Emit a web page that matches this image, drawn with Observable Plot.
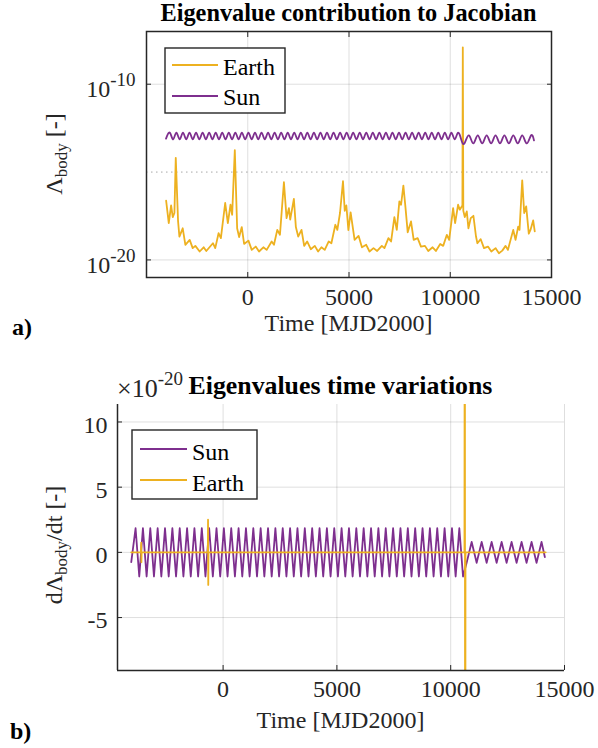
<!DOCTYPE html>
<html><head><meta charset="utf-8">
<script src="https://cdn.jsdelivr.net/npm/d3@7"></script>
<script src="https://cdn.jsdelivr.net/npm/@observablehq/plot@0.6"></script>
<style>
html,body{margin:0;padding:0;background:#fff;}
#wrap{position:relative;width:598px;height:748px;overflow:hidden;font-family:"Liberation Serif","Times New Roman",serif;}
#wrap svg{position:absolute;left:0;}
#wrap svg text{font-family:"Liberation Serif","Times New Roman",serif;}
</style></head><body><div id="wrap"></div>
<script>
// ---------- data ----------
const xTicks = [0, 5000, 10000, 15000];
const topYTicks = [1e-20, 1e-10];
const topMinorGrid = [1e-15];
const botYTicks = [-5, 0, 5, 10];
const seriesNames = ["Earth", "Sun"];

// Earth, panel a) : time [MJD2000] and log10 of Lambda
const earthTopT = [-4031,-3900,-3785,-3703,-3621,-3555,-3441,-3375,-3211,-3080,
 -2867,-2719,-2588,-2375,-2178,-2047,-1720,-1605,-1441,-1327,
 -1114,-983,-852,-770,-639,-524,-426,-295,-180,33,
 197,393,557,770,934,1180,1295,1458,1590,1786,
 1917,2032,2097,2278,2376,2491,2655,2786,2933,3114,
 3311,3475,3638,3802,3999,4130,4326,4424,4556,4703,
 4790,4870,4970,5080,5276,5472,5639,5850,6013,6209,
 6391,6622,6750,6947,7079,7241,7359,7487,7571,7685,
 7784,7899,8062,8194,8390,8554,8751,8914,9129,9291,
 9504,9652,9832,9946,10142,10240,10388,10471,10600,10620,
 10645,10718,10816,10898,11011,11144,11272,11341,11504,11666,
 11862,12029,12241,12403,12570,12732,12846,13111,13224,13357,
 13421,13554,13652,13750,13878,13962,14094,14173];
const earthTopExp = [-16.63,-17.90,-16.90,-17.56,-17.33,-14.19,-17.80,-18.67,-18.20,-19.14,
 -18.86,-19.33,-19.20,-19.52,-19.28,-19.49,-19.05,-19.33,-18.48,-18.76,
 -16.76,-17.90,-16.86,-17.43,-13.75,-18.20,-18.70,-18.13,-19.09,-18.90,
 -19.43,-19.24,-19.52,-19.28,-19.43,-18.95,-19.14,-18.29,-18.57,-15.58,
 -17.62,-17.05,-17.71,-16.53,-18.13,-18.67,-18.29,-19.20,-18.95,-19.39,
 -19.20,-19.52,-19.28,-19.43,-18.95,-19.05,-18.00,-18.29,-17.33,-15.52,
 -17.20,-16.90,-18.30,-17.30,-18.86,-18.63,-19.28,-19.14,-19.52,-19.33,
 -19.49,-19.20,-19.33,-18.76,-18.95,-17.56,-18.29,-16.67,-16.86,-15.77,
 -16.95,-18.43,-17.81,-18.86,-18.76,-19.24,-19.20,-19.49,-19.28,-19.49,
 -19.09,-19.20,-18.57,-18.86,-17.05,-17.90,-16.86,-17.14,-16.90,-7.90,
 -17.20,-17.56,-17.24,-18.20,-17.62,-17.49,-18.67,-19.05,-18.82,-19.33,
 -19.24,-19.52,-19.33,-19.62,-19.47,-19.20,-19.43,-18.29,-18.86,-18.10,
 -18.29,-15.47,-17.33,-16.95,-18.51,-18.29,-17.75,-18.38];

// Sun, both panels: times of the local extrema of the oscillation
const sunT = [-4036,
 -3846,-3684,-3523,-3361,-3199,-3038,-2876,-2714,-2553,-2391,
 -2229,-2068,-1906,-1744,-1583,-1421,-1260,-1098,-936,-775,
 -613,-451,-290,-128,34,195,357,519,680,842,
 1004,1165,1327,1489,1650,1812,1974,2135,2297,2459,
 2620,2782,2943,3105,3267,3428,3590,3752,3913,4075,
 4237,4398,4560,4722,4883,5045,5206,5368,5530,5691,
 5853,6015,6176,6338,6500,6661,6823,6985,7146,7308,
 7469,7631,7793,7954,8116,8278,8439,8601,8763,8924,
 9086,9248,9409,9571,9732,9894,10056,10217,10379,10541,
 10700,10921,11140,11360,11579,11798,12018,12237,12456,12675,
 12895,13114,13333,13553,13772,13991,14136];
// panel a) log10 of Lambda_Sun
const sunTopExp = [-13.10,
 -12.76,-13.14,-12.76,-13.14,-12.76,-13.14,-12.76,-13.14,-12.76,-13.14,
 -12.76,-13.14,-12.76,-13.14,-12.76,-13.14,-12.76,-13.14,-12.76,-13.14,
 -12.76,-13.14,-12.76,-13.14,-12.76,-13.14,-12.76,-13.14,-12.76,-13.14,
 -12.76,-13.14,-12.76,-13.14,-12.76,-13.14,-12.76,-13.14,-12.76,-13.14,
 -12.76,-13.14,-12.76,-13.14,-12.76,-13.14,-12.76,-13.14,-12.76,-13.14,
 -12.76,-13.14,-12.76,-13.14,-12.76,-13.14,-12.76,-13.14,-12.76,-13.14,
 -12.76,-13.14,-12.76,-13.14,-12.76,-13.14,-12.76,-13.14,-12.76,-13.14,
 -12.76,-13.14,-12.76,-13.14,-12.76,-13.14,-12.76,-13.14,-12.76,-13.14,
 -12.76,-13.14,-12.76,-13.14,-12.76,-13.14,-12.76,-13.14,-12.76,-13.14,
 -13.37,-12.91,-13.37,-12.91,-13.37,-12.91,-13.37,-12.91,-13.37,-12.91,
 -13.37,-12.91,-13.37,-12.91,-13.37,-12.91,-13.20];
// panel b) dLambda_Sun/dt in units of 1e-20
const sunBotVal = [-0.75,
 1.85,-1.85,1.85,-1.85,1.85,-1.85,1.85,-1.85,1.85,-1.85,
 1.85,-1.85,1.85,-1.85,1.85,-1.85,1.85,-1.85,1.85,-1.85,
 1.85,-1.85,1.85,-1.85,1.85,-1.85,1.85,-1.85,1.85,-1.85,
 1.85,-1.85,1.85,-1.85,1.85,-1.85,1.85,-1.85,1.85,-1.85,
 1.85,-1.85,1.85,-1.85,1.85,-1.85,1.85,-1.85,1.85,-1.85,
 1.85,-1.85,1.85,-1.85,1.85,-1.85,1.85,-1.85,1.85,-1.85,
 1.85,-1.85,1.85,-1.85,1.85,-1.85,1.85,-1.85,1.85,-1.85,
 1.85,-1.85,1.85,-1.85,1.85,-1.85,1.85,-1.85,1.85,-1.85,
 1.85,-1.85,1.85,-1.85,1.85,-1.85,1.85,-1.85,1.85,-1.85,
 -0.80,0.80,-0.80,0.80,-0.80,0.80,-0.80,0.80,-0.80,0.80,
 -0.80,0.80,-0.80,0.80,-0.80,0.80,-0.36];
// panel b) dLambda_Earth/dt in units of 1e-20
const earthBotT = [-4036,-3610,-3600,-3590,-3580,-672,-662,-652,-642,10605,10620,10635,10650,14173];
const earthBotVal = [0,0,0.75,-0.75,0,0,2.5,-2.5,0,0,40,-40,0,0];

// ---------- build ----------
const EARTH = "#EDB120", SUN = "#7E2F8E", AX = "#262626";
const FONT = '"Liberation Serif","Times New Roman",serif';
const earthTop = earthTopT.map((t,i)=>({t, v: Math.pow(10, earthTopExp[i])}));
const sunTop = sunT.map((t,i)=>({t, v: Math.pow(10, sunTopExp[i])}));
const sunBot = sunT.map((t,i)=>({t, v: sunBotVal[i]}));
const earthBot = earthBotT.map((t,i)=>({t, v: earthBotVal[i]}));

const xDomTop = [-5000, 15000], yDomTop = [1e-21, 1e-7];
const xDomBot = [-4640, 15000], yDomBot = [-9.06, 11.34];
const gridStyle = {stroke: "#000", strokeOpacity: 0.13, strokeWidth: 1};
const style = {fontFamily: FONT, fontSize: "24px", color: AX, background: "transparent", overflow: "visible"};
const tf = {fontFamily: FONT, fontSize: 24, fill: AX};

const topPlot = Plot.plot({
  width: 598, height: 340,
  marginLeft: 146, marginRight: 47, marginTop: 31, marginBottom: 63,
  style,
  x: {domain: xDomTop},
  y: {type: "log", domain: yDomTop},
  marks: [
    Plot.gridX({ticks: xTicks, ...gridStyle}),
    Plot.gridY({ticks: topYTicks, ...gridStyle}),
    Plot.ruleY(topMinorGrid, {stroke: "#000", strokeOpacity: 0.35, strokeDasharray: "1.5,3.5"}),
    Plot.line(earthTop, {x: "t", y: "v", stroke: EARTH, strokeWidth: 1.8}),
    Plot.line(sunTop, {x: "t", y: "v", stroke: SUN, strokeWidth: 1.8, curve: "natural"}),
    Plot.axisX({ticks: xTicks, tickSize: 0, tickPadding: 10, tickFormat: d => String(d), label: null, ...tf}),
    Plot.axisX({ticks: xTicks, tickSize: -5, fill: "none", label: null, stroke: AX}),
    Plot.axisX({anchor: "top", ticks: xTicks, tickSize: -5, fill: "none", label: null, stroke: AX}),
    Plot.axisY({ticks: topYTicks, tickSize: 0, tickPadding: 11, dy: 5, tickFormat: d => String(Math.round(Math.log10(d))), label: null, ...tf}),
    Plot.axisY({ticks: topYTicks, tickSize: -5, fill: "none", label: null, stroke: AX}),
    Plot.axisY({anchor: "right", ticks: topYTicks, tickSize: -5, fill: "none", label: null, stroke: AX}),
    Plot.frame({stroke: AX, strokeWidth: 1.5})
  ]
});
topPlot.style.top = "0px";

const botPlot = Plot.plot({
  width: 598, height: 388,
  marginLeft: 117, marginRight: 34, marginTop: 44, marginBottom: 78,
  style,
  x: {domain: xDomBot},
  y: {domain: yDomBot},
  marks: [
    Plot.gridX({ticks: xTicks, ...gridStyle}),
    Plot.gridY({ticks: botYTicks, ...gridStyle}),
    Plot.line(sunBot, {x: "t", y: "v", stroke: SUN, strokeWidth: 1.8}),
    Plot.line(earthBot, {x: "t", y: "v", stroke: EARTH, strokeWidth: 1.8, clip: true}),
    Plot.ruleX([xDomBot[0]], {stroke: AX, strokeWidth: 1.5}),
    Plot.ruleY([yDomBot[0]], {stroke: AX, strokeWidth: 1.5}),
    Plot.axisX({ticks: xTicks, tickSize: 0, tickPadding: 9, tickFormat: d => String(d), label: null, ...tf}),
    Plot.axisX({ticks: xTicks, tickSize: -5, fill: "none", label: null, stroke: AX}),
    Plot.axisY({ticks: botYTicks, tickSize: 0, tickPadding: 10, dy: 3, tickFormat: d => String(d), label: null, ...tf}),
    Plot.axisY({ticks: botYTicks, tickSize: -5, fill: "none", label: null, stroke: AX})
  ]
});
botPlot.style.top = "360px";

const wrap = document.getElementById("wrap");
wrap.appendChild(topPlot);
wrap.appendChild(botPlot);

// superscript exponents on the log tick labels
d3.select(topPlot).selectAll('g[aria-label="y-axis tick label"] text').each(function(){
  const e = this.textContent;
  const s = d3.select(this);
  s.text("10");
  s.append("tspan").attr("dy", "-0.55em").attr("font-size", "19px").text(e);
});

// ---------- annotations ----------
const ov = d3.select(wrap).append("svg")
  .attr("width", 598).attr("height", 748)
  .style("top", "0px").style("pointer-events", "none")
  .attr("font-family", FONT);

function txt(x, y, s, o = {}) {
  return ov.append("text").attr("x", x).attr("y", y)
    .attr("font-size", o.size || 24).attr("font-weight", o.bold ? "bold" : null)
    .attr("text-anchor", o.anchor || "start").attr("fill", o.fill || "#000").text(s);
}
// panel a
txt(348.5, 21, "Eigenvalue contribution to Jacobian", {bold: true, anchor: "middle", size: 24.3});
txt(348.5, 331, "Time [MJD2000]", {anchor: "middle", fill: AX});
txt(12, 335, "a)", {bold: true});
{
  const t = ov.append("text").attr("transform", "translate(62,154) rotate(-90)")
    .attr("text-anchor", "middle").attr("font-size", 24).attr("fill", AX);
  t.append("tspan").text("Λ");
  t.append("tspan").attr("font-size", 17).attr("dy", 5).text("body");
  t.append("tspan").attr("dy", -5).text(" [-]");
}
function legend(x, y, w, h, items) {
  ov.append("rect").attr("x", x).attr("y", y).attr("width", w).attr("height", h)
    .attr("fill", "#fff").attr("stroke", AX).attr("stroke-width", 1.4);
  items.forEach((it) => {
    ov.append("line").attr("x1", it.lx1).attr("x2", it.lx2).attr("y1", it.ly).attr("y2", it.ly)
      .attr("stroke", it.color).attr("stroke-width", 1.8);
    txt(it.tx, it.ty, it.name, {fill: "#000"});
  });
}
legend(165, 48, 120, 65, [
  {name: seriesNames[0], color: EARTH, lx1: 172, lx2: 218, ly: 65, tx: 223, ty: 75},
  {name: seriesNames[1], color: SUN, lx1: 172, lx2: 218, ly: 96, tx: 223, ty: 105}
]);
// panel b
txt(340.5, 394, "Eigenvalues time variations", {bold: true, anchor: "middle", size: 25.8});
{
  const t = txt(117, 397, "×10", {fill: AX, size: 26});
  t.append("tspan").attr("dy", -12).attr("font-size", 19).text("-20");
}
txt(340.5, 728, "Time [MJD2000]", {anchor: "middle", fill: AX});
txt(10, 739, "b)", {bold: true});
{
  const t = ov.append("text").attr("transform", "translate(62,545) rotate(-90)")
    .attr("text-anchor", "middle").attr("font-size", 24).attr("fill", AX);
  t.append("tspan").text("dΛ");
  t.append("tspan").attr("font-size", 17).attr("dy", 5).text("body");
  t.append("tspan").attr("dy", -5).text("/dt [-]");
}
legend(132, 430, 125, 69, [
  {name: seriesNames[1], color: SUN, lx1: 140, lx2: 187, ly: 449, tx: 192, ty: 460},
  {name: seriesNames[0], color: EARTH, lx1: 140, lx2: 187, ly: 480, tx: 192, ty: 491}
]);
</script></body></html>
